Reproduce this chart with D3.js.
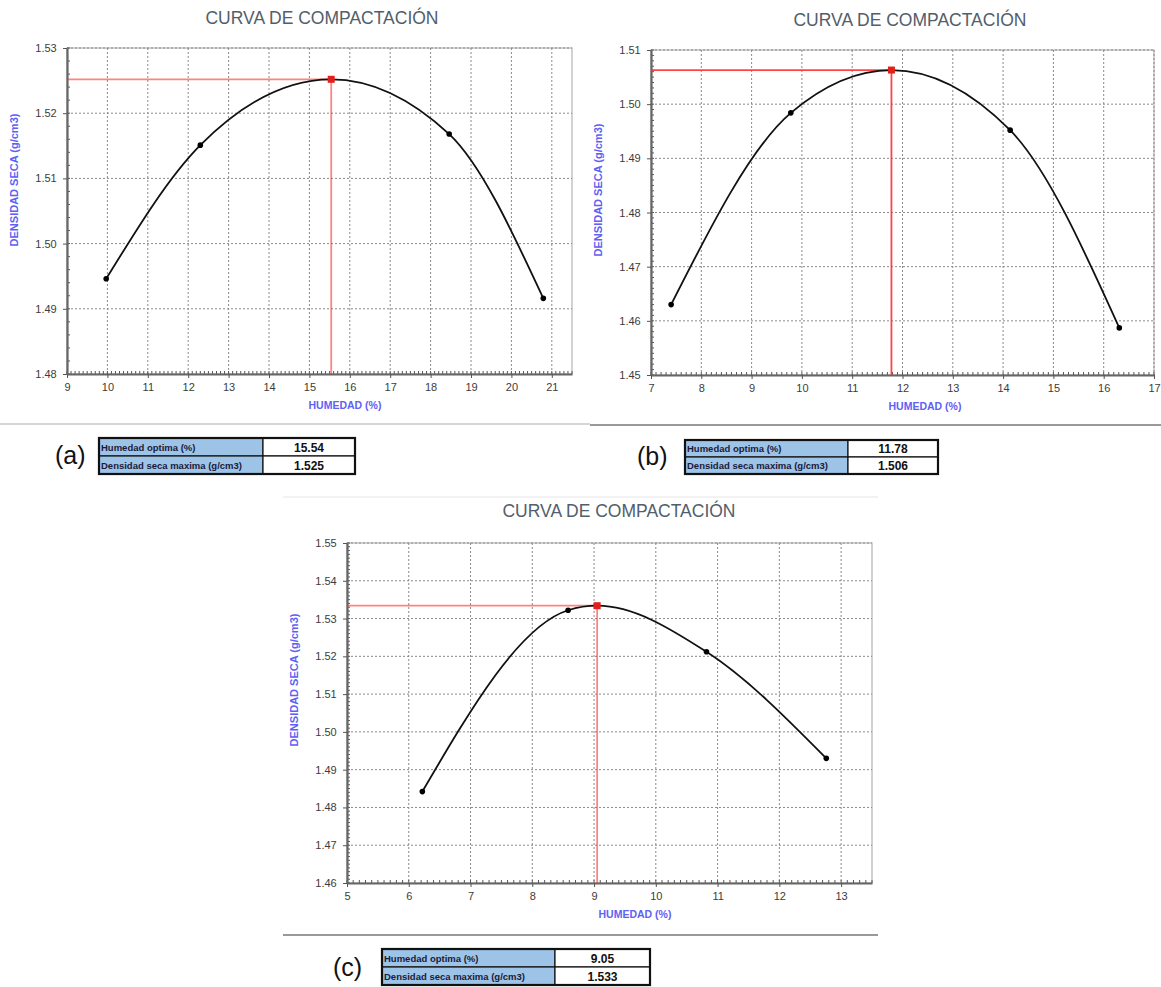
<!DOCTYPE html>
<html><head><meta charset="utf-8">
<script src="https://cdn.jsdelivr.net/npm/d3@7"></script>
<style>body{margin:0;background:#fff;}svg{display:block;font-family:"Liberation Sans",Arial,sans-serif;}</style>
</head><body>
<svg id="c" width="1161" height="987"></svg>
<script>
// ---- data ----
const titleText = "CURVA DE COMPACTACIÓN";
const xLabelText = "HUMEDAD (%)";
const yLabelText = "DENSIDAD SECA (g/cm3)";
const tableRowLabels = ["Humedad optima (%)", "Densidad seca maxima (g/cm3)"];
const panelNames = ["(a)", "(b)", "(c)"];

const humedadA = [9.97, 12.30, 18.46, 20.79];
const densidadA = [1.4946, 1.5151, 1.5168, 1.4916];
const humedadB = [7.40, 9.78, 14.14, 16.31];
const densidadB = [1.4630, 1.4984, 1.4952, 1.4587];
const humedadC = [6.22, 8.58, 10.82, 12.76];
const densidadC = [1.4842, 1.5322, 1.5212, 1.4930];

const humedadOptima = [15.54, 11.78, 9.05];
const densidadMaxima = [1.5252, 1.5063, 1.5334];

const xTicksA = [9,10,11,12,13,14,15,16,17,18,19,20,21];
const yTicksA = [1.48,1.49,1.50,1.51,1.52,1.53];
const xTicksB = [7,8,9,10,11,12,13,14,15,16,17];
const yTicksB = [1.45,1.46,1.47,1.48,1.49,1.50,1.51];
const xTicksC = [5,6,7,8,9,10,11,12,13];
const yTicksC = [1.46,1.47,1.48,1.49,1.50,1.51,1.52,1.53,1.54,1.55];

// ---- layout ----
const svg = d3.select("#c");
const panels = [
  {hx: humedadA, dy: densidadA, xt: xTicksA, yt: yTicksA, xd:[9,21.5], yd:[1.48,1.53],
   box:{l:67,t:48,r:572,b:374}, title:[322,24], xl:[345,409], yl:[18,180], yMinor:0.002,
   tbl:{x:99,y:438,w:256,split:164,h:36}, nm:[55,464], redOp:0.6},
  {hx: humedadB, dy: densidadB, xt: xTicksB, yt: yTicksB, xd:[7,17], yd:[1.45,1.51],
   box:{l:651,t:50,r:1154,b:375}, title:[910,26], xl:[925,410], yl:[602,190], yMinor:0.001,
   tbl:{x:685,y:440,w:253,split:163,h:34}, nm:[637,465], redOp:0.9},
  {hx: humedadC, dy: densidadC, xt: xTicksC, yt: yTicksC, xd:[5,13.5], yd:[1.46,1.55],
   box:{l:347,t:543,r:872,b:883}, title:[619,517], xl:[635,918], yl:[298,680], yMinor:0.001,
   tbl:{x:382,y:949,w:268,split:173,h:36}, nm:[333,976], redOp:0.6}
];

// separator lines
svg.append("line").attr("x1",0).attr("x2",590).attr("y1",424).attr("y2",424).attr("stroke","#d6d6d6").attr("stroke-width",2);
svg.append("line").attr("x1",590).attr("x2",1161).attr("y1",425).attr("y2",425).attr("stroke","#999").attr("stroke-width",2);
svg.append("line").attr("x1",283).attr("x2",878).attr("y1",497).attr("y2",497).attr("stroke","#eee").attr("stroke-width",1.5);
svg.append("line").attr("x1",283).attr("x2",878).attr("y1",935).attr("y2",935).attr("stroke","#999").attr("stroke-width",2);

panels.forEach((p, i) => {
  const g = svg.append("g");
  const x = d3.scaleLinear().domain(p.xd).range([p.box.l, p.box.r]);
  const y = d3.scaleLinear().domain(p.yd).range([p.box.b, p.box.t]);

  // title
  g.append("text").attr("x", p.title[0]).attr("y", p.title[1]).attr("text-anchor","middle")
    .attr("font-size",17.5).attr("fill","#525e6b").text(titleText);

  // plot border (top/right light)
  g.append("rect").attr("x",p.box.l).attr("y",p.box.t).attr("width",p.box.r-p.box.l).attr("height",p.box.b-p.box.t)
    .attr("fill","none").attr("stroke","#b5b5b5").attr("stroke-width",1.2);

  // gridlines
  g.append("g").selectAll("line").data(p.xt.filter(v => v > p.xd[0])).join("line")
    .attr("x1", d => x(d)).attr("x2", d => x(d)).attr("y1", p.box.t).attr("y2", p.box.b)
    .attr("stroke","#8a8a8a").attr("stroke-width",1).attr("stroke-dasharray","2,2");
  g.append("g").selectAll("line").data(p.yt.filter(v => v > p.yd[0] + 1e-9)).join("line")
    .attr("x1", p.box.l).attr("x2", p.box.r).attr("y1", d => y(d)).attr("y2", d => y(d))
    .attr("stroke","#8a8a8a").attr("stroke-width",1).attr("stroke-dasharray","2,2");

  // minor ticks
  const xMinor = d3.range(p.xd[0], p.xd[1] + 1e-9, 0.1);
  g.append("g").selectAll("line").data(xMinor).join("line")
    .attr("x1", d => x(d)).attr("x2", d => x(d)).attr("y1", p.box.b).attr("y2", p.box.b - 3)
    .attr("stroke","#555").attr("stroke-width",1);
  const yMinor = d3.range(p.yd[0], p.yd[1] + 1e-9, p.yMinor);
  g.append("g").selectAll("line").data(yMinor).join("line")
    .attr("x1", p.box.l).attr("x2", p.box.l + 3).attr("y1", d => y(d)).attr("y2", d => y(d))
    .attr("stroke","#555").attr("stroke-width",1);

  // axes
  const xa = g.append("g").attr("transform", `translate(0,${p.box.b})`)
    .call(d3.axisBottom(x).tickValues(p.xt).tickFormat(d3.format("d")).tickSize(4).tickSizeOuter(0));
  const ya = g.append("g").attr("transform", `translate(${p.box.l},0)`)
    .call(d3.axisLeft(y).tickValues(p.yt).tickFormat(d3.format(".2f")).tickSize(4).tickSizeOuter(0));
  [xa, ya].forEach(a => {
    a.select(".domain").attr("stroke","#666").attr("stroke-width",2.2);
    a.selectAll(".tick line").attr("stroke","#555");
    a.selectAll(".tick text").attr("fill","#3c3c3c").attr("font-size",11).attr("font-family","Liberation Sans, Arial, sans-serif");
  });
  xa.selectAll(".tick text").attr("dy","0.95em");
  ya.selectAll(".tick text").attr("dx","-0.3em");

  // axis labels
  g.append("text").attr("x", p.xl[0]).attr("y", p.xl[1]).attr("text-anchor","middle")
    .attr("font-size",10.5).attr("font-weight","bold").attr("fill","#6060f5").text(xLabelText);
  g.append("text").attr("transform", `translate(${p.yl[0]},${p.yl[1]}) rotate(-90)`).attr("text-anchor","middle")
    .attr("font-size",11).attr("font-weight","bold").attr("fill","#6060f5").text(yLabelText);

  // red reference lines
  const hx = humedadOptima[i], dm = densidadMaxima[i];
  g.append("line").attr("x1", p.box.l).attr("x2", x(hx)).attr("y1", y(dm)).attr("y2", y(dm))
    .attr("stroke","#ff3030").attr("stroke-opacity",p.redOp).attr("stroke-width",1.8);
  g.append("line").attr("x1", x(hx)).attr("x2", x(hx)).attr("y1", y(dm)).attr("y2", p.box.b)
    .attr("stroke","#ff3030").attr("stroke-opacity",p.redOp).attr("stroke-width",1.8);

  // curve through points + optimum
  const pts = p.hx.map((v, k) => [v, p.dy[k]]).concat([[hx, dm]]).sort((a, b) => a[0] - b[0]);
  const line = d3.line().x(d => x(d[0])).y(d => y(d[1])).curve(d3.curveMonotoneX);
  g.append("path").attr("d", line(pts)).attr("fill","none").attr("stroke","#111").attr("stroke-width",1.8);

  // points
  g.append("g").selectAll("circle").data(p.hx.map((v, k) => [v, p.dy[k]])).join("circle")
    .attr("cx", d => x(d[0])).attr("cy", d => y(d[1])).attr("r", 2.8).attr("fill","#000");
  g.append("rect").attr("x", x(hx) - 3.5).attr("y", y(dm) - 3.5).attr("width",7).attr("height",7)
    .attr("fill","#e0201a");

  // panel name
  g.append("text").attr("x", p.nm[0]).attr("y", p.nm[1]).attr("font-size",25).attr("fill","#111").text(panelNames[i]);

  // table
  const t = p.tbl, rh = t.h / 2;
  const vals = [d3.format(".2f")(hx), d3.format(".3f")(dm)];
  tableRowLabels.forEach((lab, r) => {
    g.append("rect").attr("x", t.x).attr("y", t.y + r*rh).attr("width", t.split).attr("height", rh)
      .attr("fill","#9dc3e6").attr("stroke","#111").attr("stroke-width",1.2);
    g.append("rect").attr("x", t.x + t.split).attr("y", t.y + r*rh).attr("width", t.w - t.split).attr("height", rh)
      .attr("fill","#fff").attr("stroke","#111").attr("stroke-width",1.2);
    g.append("text").attr("x", t.x + 2).attr("y", t.y + r*rh + rh/2 + 3.5).attr("font-size",9.5)
      .attr("font-weight","bold").attr("fill","#1a1a3a").text(lab);
    g.append("text").attr("x", t.x + t.split + (t.w - t.split)/2).attr("y", t.y + r*rh + rh/2 + 4.5)
      .attr("text-anchor","middle").attr("font-size",12).attr("font-weight","bold").attr("fill","#111").text(vals[r]);
  });
  g.append("rect").attr("x", t.x).attr("y", t.y).attr("width", t.w).attr("height", t.h)
    .attr("fill","none").attr("stroke","#111").attr("stroke-width",2.2);
});
</script>
</body></html>
